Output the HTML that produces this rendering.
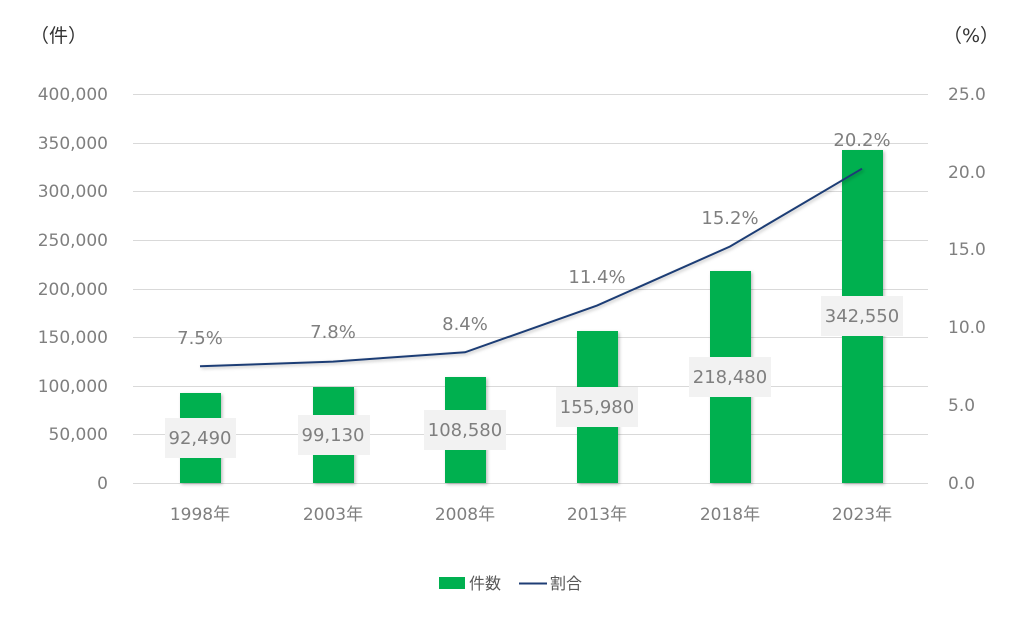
<!DOCTYPE html>
<html><head><meta charset="utf-8"><style>
body{margin:0;background:#fff;}
svg{display:block;font-family:"DejaVu Sans","Noto Sans CJK JP",sans-serif;}
</style></head><body>
<svg width="1027" height="618" viewBox="0 0 1027 618" xmlns="http://www.w3.org/2000/svg">
<defs><filter id="sh" x="-20%" y="-20%" width="140%" height="140%"><feDropShadow dx="1.5" dy="1.5" stdDeviation="1.5" flood-color="#000" flood-opacity="0.25"/></filter></defs>
<g stroke="#d9d9d9" stroke-width="1">
<line x1="133" y1="94.5" x2="928" y2="94.5"/><line x1="133" y1="143.5" x2="928" y2="143.5"/>
<line x1="133" y1="191.5" x2="928" y2="191.5"/><line x1="133" y1="240.5" x2="928" y2="240.5"/>
<line x1="133" y1="289.5" x2="928" y2="289.5"/><line x1="133" y1="337.5" x2="928" y2="337.5"/>
<line x1="133" y1="386.5" x2="928" y2="386.5"/><line x1="133" y1="434.5" x2="928" y2="434.5"/>
<line x1="133" y1="483.5" x2="928" y2="483.5"/>
</g>
<g fill="#7f7f7f" font-size="17">
<g text-anchor="end">
<text x="108" y="100">400,000</text><text x="108" y="149">350,000</text><text x="108" y="197">300,000</text>
<text x="108" y="246">250,000</text><text x="108" y="295">200,000</text><text x="108" y="343">150,000</text>
<text x="108" y="392">100,000</text><text x="108" y="440">50,000</text><text x="108" y="489">0</text>
</g>
<g text-anchor="start">
<text x="948" y="100">25.0</text><text x="948" y="178">20.0</text><text x="948" y="255">15.0</text>
<text x="948" y="333">10.0</text><text x="948" y="411">5.0</text><text x="948" y="489">0.0</text>
</g>
<g text-anchor="middle">
<text x="200" y="520">1998年</text><text x="333" y="520">2003年</text><text x="465" y="520">2008年</text>
<text x="597" y="520">2013年</text><text x="730" y="520">2018年</text><text x="862" y="520">2023年</text>
</g>
</g>
<g fill="#333" font-size="19"><text x="30" y="42">（件）</text><text x="943" y="42">（%）</text></g>
<g fill="#00b050" filter="url(#sh)">
<rect x="180" y="393" width="41" height="90"/><rect x="313" y="387" width="41" height="96"/>
<rect x="445" y="377" width="41" height="106"/><rect x="577" y="331" width="41" height="152"/>
<rect x="710" y="271" width="41" height="212"/><rect x="842" y="150" width="41" height="333"/>
</g>
<polyline filter="url(#sh)" fill="none" stroke="#1f3e75" stroke-width="2" points="200,366.3 333,361.6 465,352.3 597,305.6 730,246.5 862,168.7"/>
<g fill="#f2f2f2">
<rect x="165" y="418" width="71" height="40"/><rect x="298" y="415" width="72" height="40"/>
<rect x="424" y="410" width="82" height="40"/><rect x="556" y="387" width="82" height="40"/>
<rect x="689" y="357" width="82" height="40"/><rect x="821" y="296" width="82" height="40"/>
</g>
<g fill="#7f7f7f" font-size="18" text-anchor="middle">
<text x="200" y="444">92,490</text><text x="333" y="441">99,130</text><text x="465" y="436">108,580</text>
<text x="597" y="413">155,980</text><text x="730" y="383">218,480</text><text x="862" y="322">342,550</text>
<text x="200" y="344">7.5%</text><text x="333" y="338">7.8%</text><text x="465" y="330">8.4%</text>
<text x="597" y="283">11.4%</text><text x="730" y="224">15.2%</text><text x="862" y="146">20.2%</text>
</g>
<rect x="439" y="577" width="26" height="12" fill="#00b050"/>
<text x="469" y="589" fill="#595959" font-size="16">件数</text>
<line x1="519" y1="583.5" x2="547" y2="583.5" stroke="#1f3e75" stroke-width="2"/>
<text x="550" y="589" fill="#595959" font-size="16">割合</text>
</svg>
</body></html>
